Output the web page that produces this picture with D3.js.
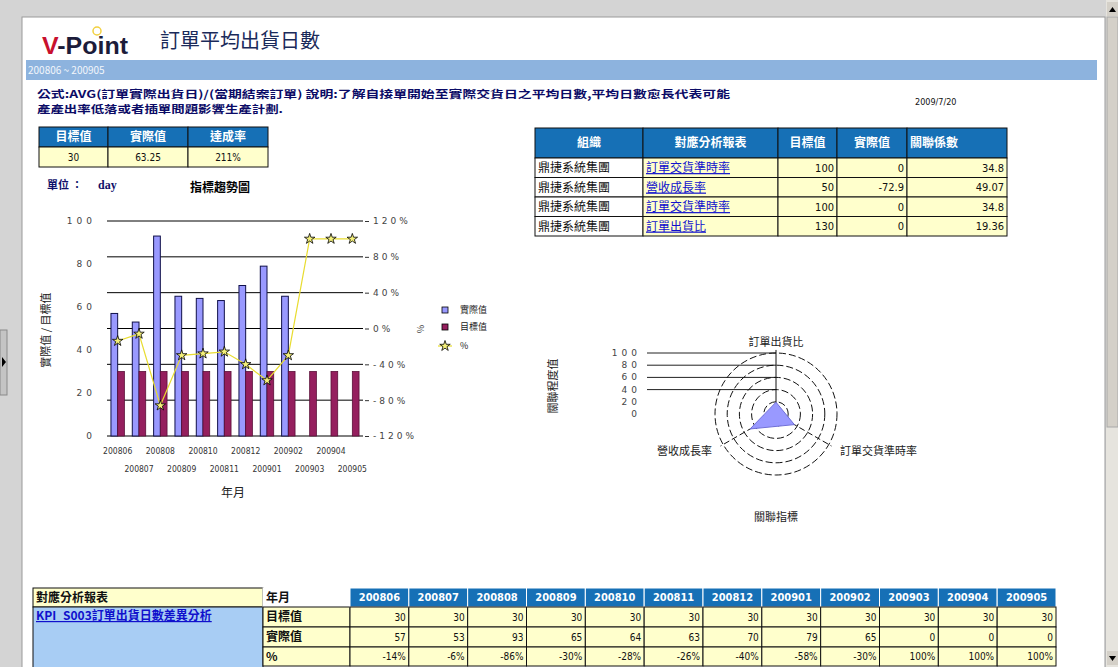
<!DOCTYPE html>
<html>
<head>
<meta charset="utf-8">
<script src="https://d3js.org/d3.v7.min.js"></script>
<style>
  body { margin: 0; background: #d4d4d4; overflow: hidden; }
  text { font-family: "Noto Sans CJK TC", "DejaVu Sans", sans-serif; }
  .num { font-family: "DejaVu Sans Condensed", "DejaVu Sans", sans-serif; }
</style>
</head>
<body>
<script>
  var W = 1118, H = 667

  // ---- data ----
  var months = ["200806", "200807", "200808", "200809", "200810", "200811",
                "200812", "200901", "200902", "200903", "200904", "200905"]
  var targetVals = [30, 30, 30, 30, 30, 30, 30, 30, 30, 30, 30, 30]
  var actualVals = [57, 53, 93, 65, 64, 63, 70, 79, 65, 0, 0, 0]
  var pctVals = [-14, -6, -86, -30, -28, -26, -40, -58, -30, 100, 100, 100]
  var leftTicks = [0, 20, 40, 60, 80, 100]
  var rightTicks = [-120, -80, -40, 0, 40, 80, 120]

  var summaryHeads = ["目標值", "實際值", "達成率"]
  var summaryVals = ["30", "63.25", "211%"]

  var relHeads = ["組織", "對應分析報表", "目標值", "實際值", "關聯係數"]
  var relOrgs = ["鼎捷系統集團", "鼎捷系統集團", "鼎捷系統集團", "鼎捷系統集團"]
  var relReports = ["訂單交貨準時率", "營收成長率", "訂單交貨準時率", "訂單出貨比"]
  var relTargets = ["100", "50", "100", "130"]
  var relActuals = ["0", "-72.9", "0", "0"]
  var relCoefs = ["34.8", "49.07", "34.8", "19.36"]

  var radarAxes = ["訂單出貨比", "訂單交貨準時率", "營收成長率"]
  var radarVals = [19.36, 34.8, 49.07]
  var radarTicks = [0, 20, 40, 60, 80, 100]

  var blue = "#1670b6", yellow = "#ffffcc"

  var svg = d3.select("body").append("svg")
              .attr("width", W)
              .attr("height", H)

  // window chrome
  svg.append("rect").attr("width", W).attr("height", H).attr("fill", "#d4d4d4")
  svg.append("rect").attr("x", 22).attr("y", 17).attr("width", 1083).attr("height", 660)
     .attr("fill", "#fff").attr("stroke", "#9a9a9a")
  svg.append("rect").attr("x", 0).attr("y", 330).attr("width", 7).attr("height", 65)
     .attr("fill", "#c4c4c4").attr("stroke", "#8a8a8a")
  svg.append("path").attr("d", "M2,357 L6,362 L2,367 Z").attr("fill", "#000")
  svg.append("rect").attr("x", 1106).attr("y", 0).attr("width", 12).attr("height", H).attr("fill", "#e6e4de")
  svg.append("rect").attr("x", 1107).attr("y", 17).attr("width", 11).attr("height", 410)
     .attr("fill", "#d4d0c8").attr("stroke", "#a8a8a8")
  svg.append("rect").attr("x", 1107).attr("y", 2).attr("width", 11).attr("height", 14).attr("fill", "#d4d0c8")
  svg.append("rect").attr("x", 1107).attr("y", 651).attr("width", 11).attr("height", 14).attr("fill", "#d4d0c8")
  svg.append("path").attr("d", "M1109,12 L1112.5,7 L1116,12 Z").attr("fill", "#000")
  svg.append("path").attr("d", "M1109,656 L1112.5,661 L1116,656 Z").attr("fill", "#000")

  // header
  var logo = svg.append("text").attr("x", 42).attr("y", 54)
                .attr("textLength", 86).attr("lengthAdjust", "spacingAndGlyphs")
                .style("font-family", "'Liberation Sans', Arial, sans-serif")
                .style("font-weight", "bold").style("font-size", "23px")
  logo.append("tspan").attr("fill", "#c8102e").text("V")
  logo.append("tspan").attr("fill", "#1c1c3a").text("-Point")
  svg.append("circle").attr("cx", 97).attr("cy", 31).attr("r", 4)
     .attr("fill", "none").attr("stroke", "#f2d040").attr("stroke-width", 1.5)

  svg.append("text").attr("x", 160).attr("y", 48)
     .attr("fill", "#1a2a5a").style("font-size", "20px")
     .text("訂單平均出貨日數")

  svg.append("rect").attr("x", 26).attr("y", 60).attr("width", 1071).attr("height", 20).attr("fill", "#8db3de")
  svg.append("text").attr("x", 28).attr("y", 74).attr("fill", "#f2f6fb")
     .style("font-size", "10px").text("200806 ~ 200905")

  svg.append("text").attr("x", 37).attr("y", 98)
     .attr("textLength", 693).attr("lengthAdjust", "spacingAndGlyphs")
     .attr("fill", "#0b0b66").style("font-size", "10.5px").style("font-weight", "bold")
     .text("公式:AVG(訂單實際出貨日)/(當期結案訂單)  說明:了解自接單開始至實際交貨日之平均日數,平均日數愈長代表可能")
  svg.append("text").attr("x", 37).attr("y", 113)
     .attr("textLength", 246).attr("lengthAdjust", "spacingAndGlyphs")
     .attr("fill", "#0b0b66").style("font-size", "10.5px").style("font-weight", "bold")
     .text("產產出率低落或者插單問題影響生產計劃.")
  svg.append("text").attr("x", 915).attr("y", 105).attr("fill", "#111")
     .attr("class", "num").style("font-size", "9px").text("2009/7/20")

  // table helper
  function cell(x, y, w, h, fill, txt, opt) {
    opt = opt || {}
    svg.append("rect").attr("x", x).attr("y", y).attr("width", w).attr("height", h)
       .attr("fill", fill).attr("stroke", opt.stroke || "#111").attr("stroke-width", 1)
    if (txt === undefined || txt === null) return
    var align = opt.align || "middle"
    var tx = align === "middle" ? x + w / 2 : (align === "end" ? x + w - 3 : x + 3)
    var t = svg.append("text").attr("x", tx).attr("y", y + h / 2 + (opt.size || 11) * 0.36)
               .attr("text-anchor", align)
               .attr("fill", opt.color || "#111")
               .style("font-size", (opt.size || 11) + "px")
               .style("font-weight", opt.bold ? "bold" : "normal")
               .text(txt)
    if (opt.num) t.attr("class", "num")
    if (opt.underline) t.style("text-decoration", "underline")
  }

  // summary table
  var sumCols = [39, 108, 188, 268]
  summaryHeads.forEach(function(h, i) {
    cell(sumCols[i], 127, sumCols[i + 1] - sumCols[i], 20, blue, h, {color: "#fff", bold: true, size: 12})
    cell(sumCols[i], 147, sumCols[i + 1] - sumCols[i], 20, yellow, summaryVals[i], {num: true, size: 10})
  })

  svg.append("text").attr("x", 47).attr("y", 189).attr("fill", "#10106a")
     .style("font-size", "11px").style("font-weight", "bold")
     .text("單位 ：")
  svg.append("text").attr("x", 98).attr("y", 189).attr("fill", "#10106a")
     .style("font-family", "'Liberation Serif', serif")
     .style("font-size", "12px").style("font-weight", "bold").text("day")
  svg.append("text").attr("x", 190).attr("y", 192).attr("fill", "#000")
     .style("font-size", "12px").style("font-weight", "bold").text("指標趨勢圖")

  // relation table
  var relCols = [535, 643, 778, 837, 907, 1007]
  var relRows = [128, 158, 177.5, 197, 216.5, 236]
  relHeads.forEach(function(h, i) {
    cell(relCols[i], relRows[0], relCols[i + 1] - relCols[i], relRows[1] - relRows[0], blue, h,
         {color: "#fff", bold: true, size: 12, align: i === 4 ? "start" : "middle"})
  })
  relOrgs.forEach(function(o, r) {
    var y = relRows[r + 1], h = relRows[r + 2] - relRows[r + 1]
    cell(relCols[0], y, relCols[1] - relCols[0], h, "#fff", o, {align: "start", size: 12})
    cell(relCols[1], y, relCols[2] - relCols[1], h, yellow, relReports[r],
         {align: "start", size: 12, color: "#1010cc", underline: true})
    cell(relCols[2], y, relCols[3] - relCols[2], h, yellow, relTargets[r], {align: "end", num: true})
    cell(relCols[3], y, relCols[4] - relCols[3], h, yellow, relActuals[r], {align: "end", num: true})
    cell(relCols[4], y, relCols[5] - relCols[4], h, yellow, relCoefs[r], {align: "end", num: true})
  })

  // ---- trend chart ----
  var x = d3.scaleBand().domain(months).range([107, 363])
  var xs = d3.scaleBand().domain(["actual", "target"]).range([0, x.bandwidth()]).paddingOuter(0.59)
  var yL = d3.scaleLinear().domain([0, 100]).range([436, 221])
  var yR = d3.scaleLinear().domain([-120, 120]).range([436, 221])

  var chart = svg.append("g")

  chart.selectAll(".grid").data(rightTicks).enter().append("line")
       .attr("x1", 107).attr("x2", 363)
       .attr("y1", function(d) { return yR(d) }).attr("y2", function(d) { return yR(d) })
       .attr("stroke", "#000").attr("stroke-width", 1)

  var axL = chart.append("g").attr("transform", "translate(96,0)")
                 .call(d3.axisLeft(yL).tickValues(leftTicks).tickSize(0).tickPadding(0))
  axL.select(".domain").remove()
  axL.selectAll("text").attr("fill", "#444").style("font-size", "9px").style("letter-spacing", "4px")
     .style("font-family", "'DejaVu Sans', sans-serif")

  var axR = chart.append("g").attr("transform", "translate(365,0)")
                 .call(d3.axisRight(yR).tickValues(rightTicks).tickSize(4).tickPadding(4)
                       .tickFormat(function(d) { return d + "%" }))
  axR.select(".domain").remove()
  axR.selectAll("line").attr("stroke", "#333")
  axR.selectAll("text").attr("fill", "#444").style("font-size", "9px").style("letter-spacing", "3px")
     .style("font-family", "'DejaVu Sans', sans-serif")

  chart.selectAll(".bar-a").data(months).enter().append("rect")
       .filter(function(d, i) { return actualVals[i] > 0 })
       .attr("x", function(d) { return x(d) + xs("actual") })
       .attr("y", function(d) { return yL(actualVals[months.indexOf(d)]) })
       .attr("width", xs.bandwidth())
       .attr("height", function(d) { return yL(0) - yL(actualVals[months.indexOf(d)]) })
       .attr("fill", "#9999ff").attr("stroke", "#10104a").attr("stroke-width", 1)

  chart.selectAll(".bar-t").data(months).enter().append("rect")
       .attr("x", function(d) { return x(d) + xs("target") })
       .attr("y", function(d, i) { return yL(targetVals[i]) })
       .attr("width", xs.bandwidth())
       .attr("height", function(d, i) { return yL(0) - yL(targetVals[i]) })
       .attr("fill", "#951f5e").attr("stroke", "#5a0f38").attr("stroke-width", 0.8)

  var line = d3.line()
               .x(function(d, i) { return x(months[i]) + x.bandwidth() / 2 })
               .y(function(d) { return yR(d) })
  chart.append("path").datum(pctVals).attr("d", line)
       .attr("fill", "none").attr("stroke", "#e8dc30").attr("stroke-width", 1.2)

  var star = d3.symbol().type(d3.symbolStar).size(34)
  chart.selectAll(".star").data(pctVals).enter().append("path")
       .attr("d", star)
       .attr("transform", function(d, i) { return "translate(" + (x(months[i]) + x.bandwidth() / 2) + "," + yR(d) + ")" })
       .attr("fill", "#f4f07a").attr("stroke", "#000").attr("stroke-width", 0.8)

  chart.selectAll(".xl").data(months).enter().append("text")
       .attr("x", function(d) { return x(d) + x.bandwidth() / 2 })
       .attr("y", function(d, i) { return i % 2 === 0 ? 454 : 472 })
       .attr("text-anchor", "middle").attr("fill", "#333")
       .style("font-size", "8.5px").style("font-family", "'DejaVu Sans Condensed', sans-serif")
       .text(function(d) { return d })

  chart.append("text").attr("x", 233).attr("y", 497).attr("text-anchor", "middle")
       .attr("fill", "#222").style("font-size", "12px").text("年月")
  chart.append("text").attr("transform", "translate(50,330) rotate(-90)").attr("text-anchor", "middle")
       .attr("fill", "#222").style("font-size", "11px").text("實際值 / 目標值")
  chart.append("text").attr("transform", "translate(424,329) rotate(-90)").attr("text-anchor", "middle")
       .attr("fill", "#444").style("font-size", "9px").text("%")

  // legend
  chart.append("rect").attr("x", 442).attr("y", 307).attr("width", 6).attr("height", 6)
       .attr("fill", "#9999ff").attr("stroke", "#000").attr("stroke-width", 0.8)
  chart.append("rect").attr("x", 442).attr("y", 324).attr("width", 6).attr("height", 6)
       .attr("fill", "#951f5e").attr("stroke", "#000").attr("stroke-width", 0.8)
  chart.append("line").attr("x1", 438).attr("x2", 452).attr("y1", 346).attr("y2", 346)
       .attr("stroke", "#e8dc30").attr("stroke-width", 1.2)
  chart.append("path").attr("d", star).attr("transform", "translate(445,346)")
       .attr("fill", "#f4f07a").attr("stroke", "#000").attr("stroke-width", 0.8)
  var legTexts = ["實際值", "目標值", "%"]
  chart.selectAll(".leg").data(legTexts).enter().append("text")
       .attr("x", 460).attr("y", function(d, i) { return [313, 330, 349][i] })
       .attr("fill", "#222").style("font-size", "9px")
       .text(function(d) { return d })

  // ---- radar ----
  var cx = 776, cy = 414
  var r = d3.scaleLinear().domain([0, 100]).range([0, 61])
  var radar = svg.append("g")
  function ang(i) { return -Math.PI / 2 + i * 2 * Math.PI / radarAxes.length }

  radar.selectAll(".hl").data(radarTicks.filter(function(d) { return d >= 40 })).enter().append("line")
       .attr("x1", 647).attr("x2", cx)
       .attr("y1", function(d) { return cy - r(d) }).attr("y2", function(d) { return cy - r(d) })
       .attr("stroke", "#222").attr("stroke-width", 1)

  radar.selectAll(".ring").data(radarTicks.slice(1)).enter().append("circle")
       .attr("cx", cx).attr("cy", cy).attr("r", function(d) { return r(d) })
       .attr("fill", "none").attr("stroke", "#111").attr("stroke-width", 1)
       .attr("stroke-dasharray", "7,3")

  radar.selectAll(".spoke").data(radarAxes).enter().append("line")
       .attr("x1", cx).attr("y1", cy)
       .attr("x2", function(d, i) { return cx + Math.cos(ang(i)) * r(105) })
       .attr("y2", function(d, i) { return cy + Math.sin(ang(i)) * r(105) })
       .attr("stroke", "#111").attr("stroke-width", 1)
       .attr("stroke-dasharray", function(d, i) { return i === 0 ? null : "6,3" })

  radar.append("path")
       .datum(radarVals)
       .attr("d", d3.lineRadial()
                    .angle(function(d, i) { return ang(i) + Math.PI / 2 })
                    .radius(function(d) { return r(d) })
                    .curve(d3.curveLinearClosed))
       .attr("transform", "translate(" + cx + "," + cy + ")")
       .attr("fill", "#9999ff").attr("stroke", "#7070d8").attr("stroke-width", 1)

  radar.selectAll(".rt").data(radarTicks).enter().append("text")
       .attr("x", 641).attr("y", function(d) { return cy - r(d) + 3 })
       .attr("text-anchor", "end").attr("fill", "#444")
       .style("font-size", "9px").style("letter-spacing", "4px")
       .style("font-family", "'DejaVu Sans', sans-serif")
       .text(function(d) { return d })

  radar.selectAll(".al").data(radarAxes).enter().append("text")
       .attr("x", function(d, i) { return [cx, 840, 712][i] })
       .attr("y", function(d, i) { return [346, 455, 455][i] })
       .attr("text-anchor", function(d, i) { return ["middle", "start", "end"][i] })
       .attr("fill", "#222").style("font-size", "11px")
       .text(function(d) { return d })

  radar.append("text").attr("transform", "translate(557,386) rotate(-90)").attr("text-anchor", "middle")
       .attr("fill", "#222").style("font-size", "11px").text("關聯程度值")
  radar.append("text").attr("x", cx).attr("y", 521).attr("text-anchor", "middle")
       .attr("fill", "#222").style("font-size", "11px").text("關聯指標")

  // ---- bottom table ----
  var rowsB = [588, 607, 627, 647, 666]
  var mx = d3.scaleBand().domain(months).range([350, 1056])
  cell(33, rowsB[0], 230, rowsB[1] - rowsB[0], yellow, "對應分析報表", {align: "start", bold: true, size: 12})
  cell(33, rowsB[1], 230, 70, "#a8cdf4", null)
  svg.append("text").attr("x", 36).attr("y", 620).attr("fill", "#1010cc")
     .style("font-size", "12px").style("font-weight", "bold").style("text-decoration", "underline")
     .text("KPI_S003訂單出貨日數差異分析")
  var rowLabels = ["年月", "目標值", "實際值", "%"]
  rowLabels.forEach(function(lab, i) {
    cell(263, rowsB[i], 87, rowsB[i + 1] - rowsB[i], i === 0 ? "#fff" : yellow, lab,
         {align: "start", bold: true, size: 12, stroke: i === 0 ? "#fff" : "#111"})
  })
  months.forEach(function(m, i) {
    var w = mx.bandwidth(), x0 = mx(m)
    cell(x0, rowsB[0], w, rowsB[1] - rowsB[0], blue, m, {color: "#fff", bold: true, size: 11, num: true, stroke: "#fff"})
    cell(x0, rowsB[1], w, rowsB[2] - rowsB[1], yellow, targetVals[i], {align: "end", num: true, size: 10})
    cell(x0, rowsB[2], w, rowsB[3] - rowsB[2], yellow, actualVals[i], {align: "end", num: true, size: 10})
    cell(x0, rowsB[3], w, rowsB[4] - rowsB[3], yellow, pctVals[i] + "%", {align: "end", num: true, size: 10})
  })
</script>
</body>
</html>
